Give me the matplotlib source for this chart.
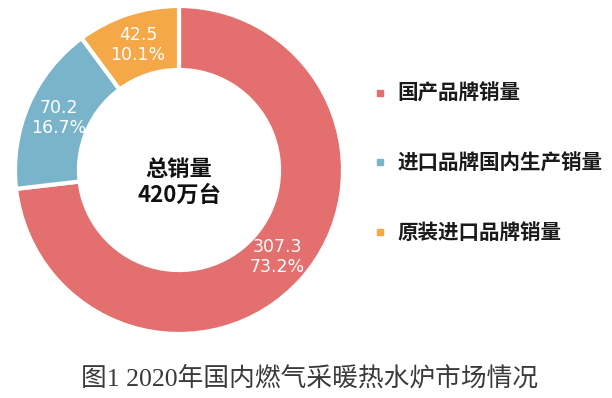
import matplotlib.pyplot as plt
from matplotlib.lines import Line2D

CATEGORIES = ["国产品牌销量", "进口品牌国内生产销量", "原装进口品牌销量"]
VALUES = [307.3, 70.2, 42.5]
SHARES = [73.2, 16.7, 10.1]
TOTAL_LABEL = "总销量\n420万台"
CAPTION = "图1 2020年国内燃气采暖热水炉市场情况"

COLORS = ["#E46F6F", "#79B4CA", "#F5A847"]

plt.rcParams["font.family"] = ["DejaVu Sans", "Noto Sans CJK SC"]

fig = plt.figure(figsize=(6.12, 3.98), dpi=100)
ax = fig.add_axes([15 / 612, 64 / 398, 328 / 612, 328 / 398])

slice_labels = iter(f"{v:.1f}\n{s:.1f}%" for v, s in zip(VALUES, SHARES))
wedges, _, autotexts = ax.pie(
    VALUES,
    colors=COLORS,
    startangle=90,
    counterclock=False,
    radius=1.0,
    wedgeprops=dict(width=0.39, edgecolor="white", linewidth=3),
    autopct=lambda p: next(slice_labels),
    pctdistance=0.80,
    textprops=dict(color="white", fontsize=12.5),
)
for t in autotexts:
    t.set_linespacing(1.15)

ax.text(0, -0.075, TOTAL_LABEL, ha="center", va="center", fontsize=16,
        family=["Noto Sans CJK SC"], weight="bold", color="#111111", linespacing=1.2)

ax.set_xlim(-1, 1)
ax.set_ylim(-1, 1)
ax.set_aspect("equal")
ax.axis("off")

handles = [Line2D([], [], marker="s", linestyle="none", markersize=5, color=c) for c in COLORS]
fig.legend(
    handles,
    CATEGORIES,
    loc="center left",
    bbox_to_anchor=(376 / 612, 1 - 163 / 398),
    frameon=False,
    prop=dict(family="Noto Sans CJK SC", weight="bold", size=14.8),
    handlelength=0.4,
    handletextpad=0.65,
    labelspacing=2.37,
    borderpad=0,
    borderaxespad=0,
    labelcolor="#1a1a1a",
)

fig.text(310 / 612, 1 - 378 / 398, CAPTION, ha="center", va="center", fontsize=18.5,
         family=["Liberation Serif", "Noto Sans CJK SC"], color="#3a3a3a")

fig.savefig("out.png", dpi=100)
